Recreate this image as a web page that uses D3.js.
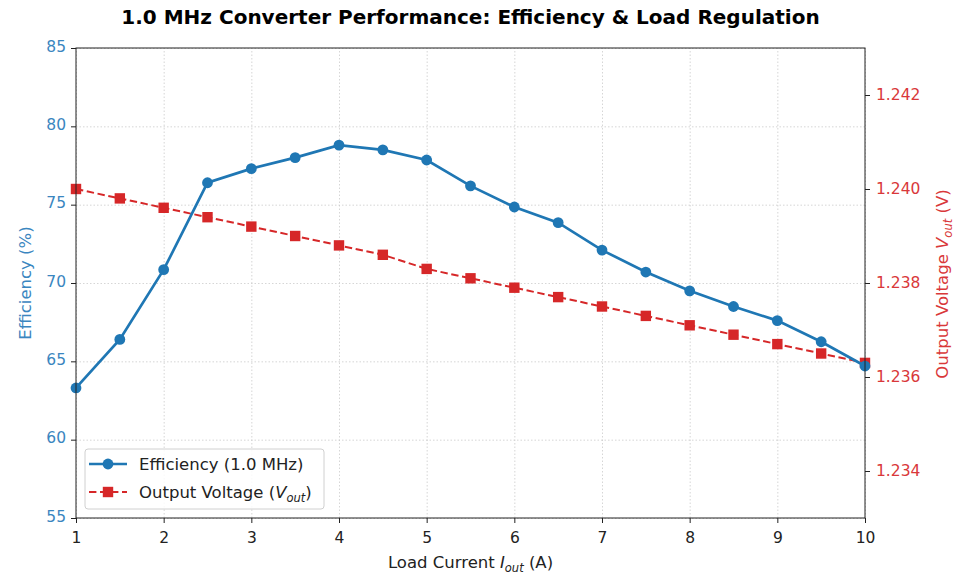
<!DOCTYPE html>
<html>
<head>
<meta charset="utf-8">
<script src="https://cdn.jsdelivr.net/npm/d3@7"></script>
<style>
  body { margin: 0; background: #fff; }
  text { font-family: "DejaVu Sans", sans-serif; }
  .grid line { stroke: #cccccc; stroke-dasharray: 1.5,2; stroke-width: 0.8; }
  .grid path { display: none; }
</style>
</head>
<body>
<div id="app"></div>
<script>
(function (d3) {
  'use strict'

  // data
  const loadCurrent = [1, 1.5, 2, 2.5, 3, 3.5, 4, 4.5, 5, 5.5, 6, 6.5, 7, 7.5, 8, 8.5, 9, 9.5, 10]
  const efficiency = [63.3, 66.4, 70.85, 76.4, 77.3, 78.0, 78.8, 78.5, 77.85, 76.2, 74.85, 73.85, 72.1, 70.7, 69.5, 68.5, 67.6, 66.25, 64.7]
  const vout = [1.2400, 1.2398, 1.2396, 1.2394, 1.2392, 1.2390, 1.2388, 1.2386, 1.2383, 1.2381, 1.2379, 1.2377, 1.2375, 1.2373, 1.2371, 1.2369, 1.2367, 1.2365, 1.2363]
  const xTicks = [1, 2, 3, 4, 5, 6, 7, 8, 9, 10]
  const effTicks = [55, 60, 65, 70, 75, 80, 85]
  const voutTicks = [1.234, 1.236, 1.238, 1.240, 1.242]

  const blue = '#1f77b4'
  const red = '#d62728'
  const effColor = '#3a86c0'
  const voltColor = '#d9383a'

  const width = 963, height = 576
  const margin = { top: 48, right: 98, bottom: 58, left: 76 }
  const w = width - margin.left - margin.right
  const h = height - margin.top - margin.bottom

  const tickFont = '15.5px'
  const labelFont = '16.5px'

  const svg = d3.select('#app').append('svg')
    .attr('width', width)
    .attr('height', height)

  svg.append('text')
    .attr('x', margin.left + w / 2)
    .attr('y', 24)
    .attr('text-anchor', 'middle')
    .style('font-size', '20px')
    .style('font-weight', 'bold')
    .text('1.0 MHz Converter Performance: Efficiency & Load Regulation')

  const g = svg.append('g')
    .attr('transform', 'translate(' + margin.left + ',' + margin.top + ')')

  const xScale = d3.scaleLinear().domain([1, 10]).range([0, w])
  const yLeft = d3.scaleLinear().domain([55, 85]).range([h, 0])
  const yRight = d3.scaleLinear().domain([1.233, 1.243]).range([h, 0])

  // grid
  g.append('g').attr('class', 'grid')
    .attr('transform', 'translate(0,' + h + ')')
    .call(d3.axisBottom(xScale).tickValues(xTicks).tickSize(-h).tickFormat(''))
  g.append('g').attr('class', 'grid')
    .call(d3.axisLeft(yLeft).tickValues(effTicks).tickSize(-w).tickFormat(''))

  // lines
  const effLine = d3.line()
    .x(function (d, i) { return xScale(loadCurrent[i]) })
    .y(function (d) { return yLeft(d) })
  const voutLine = d3.line()
    .x(function (d, i) { return xScale(loadCurrent[i]) })
    .y(function (d) { return yRight(d) })

  g.append('path')
    .datum(vout)
    .attr('d', voutLine)
    .attr('fill', 'none')
    .attr('stroke', red)
    .attr('stroke-width', 2)
    .attr('stroke-dasharray', '7.4,3.6')

  g.selectAll('rect.vpt')
    .data(vout)
    .enter()
    .append('rect')
    .attr('class', 'vpt')
    .attr('x', function (d, i) { return xScale(loadCurrent[i]) - 5.2 })
    .attr('y', function (d) { return yRight(d) - 5.2 })
    .attr('width', 10.4)
    .attr('height', 10.4)
    .attr('fill', red)

  g.append('path')
    .datum(efficiency)
    .attr('d', effLine)
    .attr('fill', 'none')
    .attr('stroke', blue)
    .attr('stroke-width', 2.7)

  g.selectAll('circle.ept')
    .data(efficiency)
    .enter()
    .append('circle')
    .attr('class', 'ept')
    .attr('cx', function (d, i) { return xScale(loadCurrent[i]) })
    .attr('cy', function (d) { return yLeft(d) })
    .attr('r', 5.4)
    .attr('fill', blue)

  // frame
  g.append('rect')
    .attr('width', w)
    .attr('height', h)
    .attr('fill', 'none')
    .attr('stroke', '#222')
    .attr('stroke-width', 1)

  // axes
  const xAxis = g.append('g')
    .attr('transform', 'translate(0,' + h + ')')
    .call(d3.axisBottom(xScale).tickValues(xTicks).tickSize(5).tickPadding(9).tickFormat(d3.format('d')))
  xAxis.select('.domain').remove()
  xAxis.selectAll('text').style('font-size', tickFont).attr('fill', '#222')
  xAxis.selectAll('line').attr('stroke', '#222')

  const lAxis = g.append('g')
    .call(d3.axisLeft(yLeft).tickValues(effTicks).tickSize(5).tickPadding(5).tickFormat(d3.format('d')))
  lAxis.select('.domain').remove()
  lAxis.selectAll('text').style('font-size', tickFont).attr('fill', effColor).attr('dy', '0.2em')
  lAxis.selectAll('line').attr('stroke', '#222')

  const rAxis = g.append('g')
    .attr('transform', 'translate(' + w + ',0)')
    .call(d3.axisRight(yRight).tickValues(voutTicks).tickSize(5).tickPadding(6).tickFormat(d3.format('.3f')))
  rAxis.select('.domain').remove()
  rAxis.selectAll('text').style('font-size', tickFont).attr('fill', voltColor)
  rAxis.selectAll('line').attr('stroke', '#222')

  // axis labels
  const xl = svg.append('text')
    .attr('x', margin.left + w / 2)
    .attr('y', 568)
    .attr('text-anchor', 'middle')
    .style('font-size', labelFont)
    .attr('fill', '#222')
  xl.append('tspan').text('Load Current ')
  xl.append('tspan').style('font-style', 'italic').text('I')
  xl.append('tspan').style('font-style', 'italic').style('font-size', '11.5px').attr('dy', 3.5).text('out')
  xl.append('tspan').attr('dy', -3.5).text(' (A)')

  svg.append('text')
    .attr('transform', 'translate(31,' + (margin.top + h / 2) + ') rotate(-90)')
    .attr('text-anchor', 'middle')
    .style('font-size', labelFont)
    .attr('fill', effColor)
    .text('Efficiency (%)')

  const rl = svg.append('text')
    .attr('transform', 'translate(948,' + (margin.top + h / 2 + 1) + ') rotate(-90)')
    .attr('text-anchor', 'middle')
    .style('font-size', labelFont)
    .attr('fill', voltColor)
  rl.append('tspan').text('Output Voltage ')
  rl.append('tspan').style('font-style', 'italic').text('V')
  rl.append('tspan').style('font-style', 'italic').style('font-size', '11.5px').attr('dy', 3.5).text('out')
  rl.append('tspan').attr('dy', -3.5).text(' (V)')

  // legend
  const leg = g.append('g').attr('transform', 'translate(9,401)')
  leg.append('rect')
    .attr('width', 239)
    .attr('height', 60)
    .attr('rx', 3)
    .attr('fill', 'rgba(255,255,255,0.85)')
    .attr('stroke', '#d0d0d0')

  leg.append('line')
    .attr('x1', 4).attr('x2', 42).attr('y1', 15).attr('y2', 15)
    .attr('stroke', blue).attr('stroke-width', 2.7)
  leg.append('circle').attr('cx', 23).attr('cy', 15).attr('r', 5.4).attr('fill', blue)
  leg.append('text').attr('x', 54).attr('y', 21).style('font-size', labelFont).attr('fill', '#222')
    .text('Efficiency (1.0 MHz)')

  leg.append('line')
    .attr('x1', 4).attr('x2', 42).attr('y1', 43).attr('y2', 43)
    .attr('stroke', red).attr('stroke-width', 2).attr('stroke-dasharray', '7.4,3.6')
  leg.append('rect').attr('x', 17.8).attr('y', 37.8).attr('width', 10.4).attr('height', 10.4).attr('fill', red)
  const lt = leg.append('text').attr('x', 54).attr('y', 49).style('font-size', labelFont).attr('fill', '#222')
  lt.append('tspan').text('Output Voltage (')
  lt.append('tspan').style('font-style', 'italic').text('V')
  lt.append('tspan').style('font-style', 'italic').style('font-size', '11.5px').attr('dy', 3.5).text('out')
  lt.append('tspan').attr('dy', -3.5).text(')')

})(d3)
</script>
</body>
</html>
